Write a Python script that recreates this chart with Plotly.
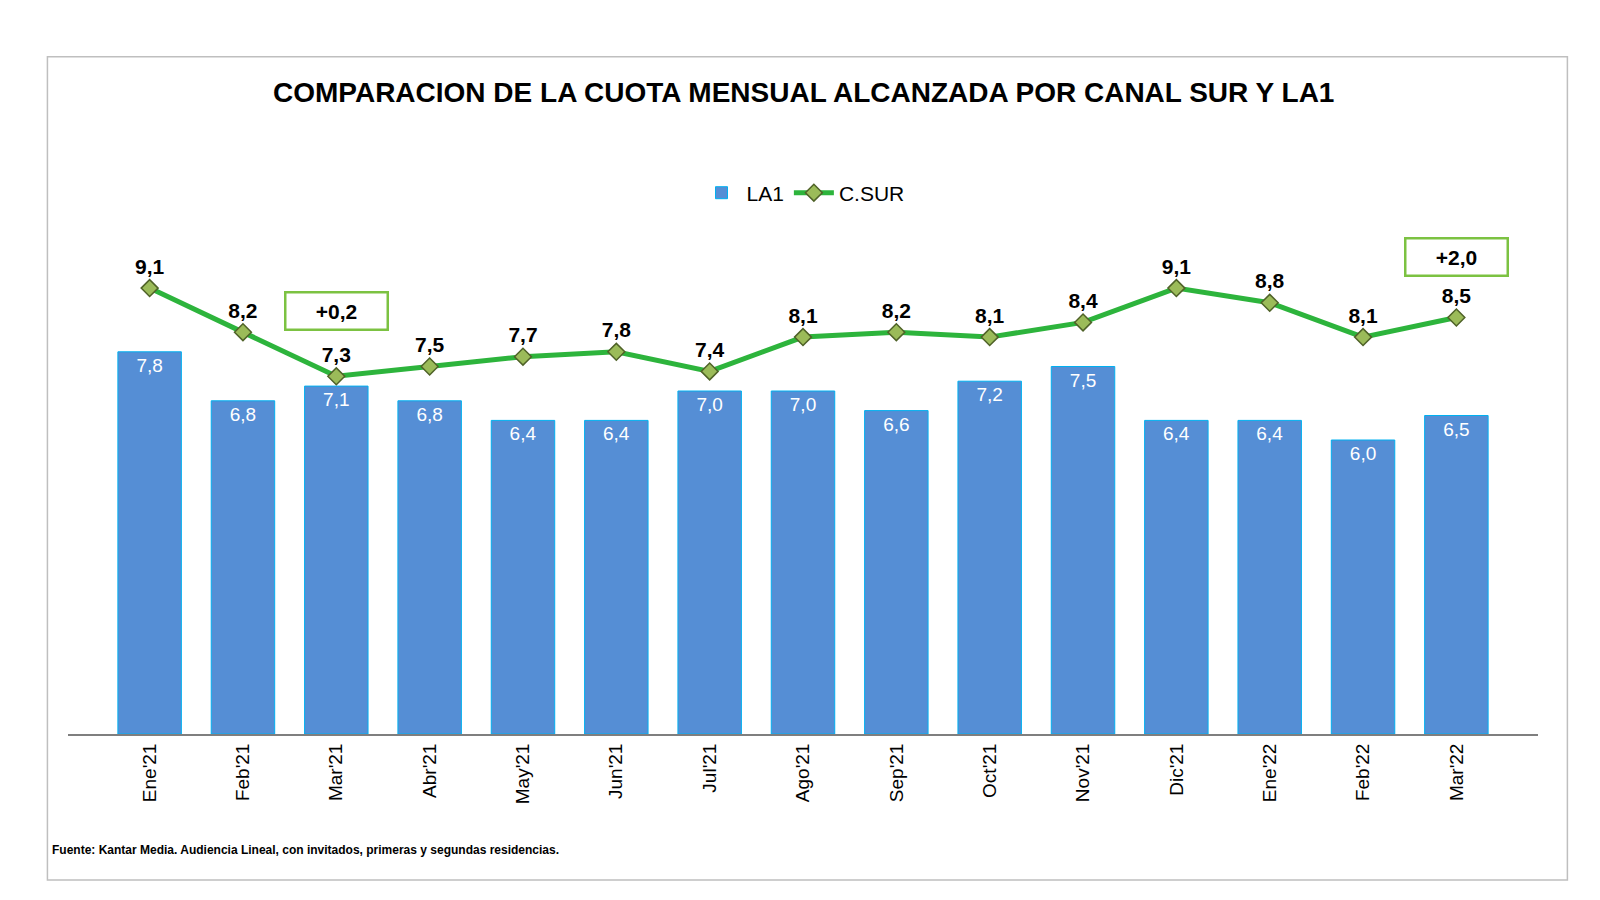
import plotly.graph_objects as go

months = ["Ene'21", "Feb'21", "Mar'21", "Abr'21", "May'21", "Jun'21", "Jul'21", "Ago'21",
          "Sep'21", "Oct'21", "Nov'21", "Dic'21", "Ene'22", "Feb'22", "Mar'22"]
la1 = [7.8, 6.8, 7.1, 6.8, 6.4, 6.4, 7.0, 7.0, 6.6, 7.2, 7.5, 6.4, 6.4, 6.0, 6.5]
csur = [9.1, 8.2, 7.3, 7.5, 7.7, 7.8, 7.4, 8.1, 8.2, 8.1, 8.4, 9.1, 8.8, 8.1, 8.5]
diffs = [("Mar'21", 0.905, "+0,2"), ("Mar'22", 1.015, "+2,0")]

font = "Liberation Sans"

fig = go.Figure()
fig.add_trace(go.Bar(
    x=months, y=la1, name="LA1", marker_color="#558ED5",
    marker_line=dict(color="#00B0F0", width=1),
    texttemplate="%{y:.1f}", textposition="inside", insidetextanchor="end",
    textfont=dict(color="white", size=19, family=font), textangle=0,
))
fig.add_trace(go.Scatter(
    x=months, y=csur, name="C.SUR", mode="lines+markers+text",
    line=dict(color="#2DB43C", width=5),
    marker=dict(symbol="diamond", size=13, color="#9BBB59", line=dict(color="#4F6228", width=1.5)),
    texttemplate="<b>%{y:.1f}</b>", textposition="top center",
    textfont=dict(color="black", size=21, family=font),
))

for m, yv, txt in diffs:
    fig.add_annotation(x=m, y=yv, yref="paper", text="<b>" + txt + "</b>", showarrow=False,
                       font=dict(size=21, family=font, color="black"),
                       bordercolor="#7CC242", borderwidth=2.5, borderpad=6,
                       bgcolor="white", width=88)

fig.add_shape(type="rect", xref="paper", yref="paper", x0=-0.014, x1=1.02, y0=-0.298, y1=1.382,
              line=dict(color="#BFBFBF", width=1.5), layer="below")

fig.add_annotation(xref="paper", yref="paper", x=0.5, y=1.345, showarrow=False,
                   text="<b>COMPARACION DE LA CUOTA MENSUAL ALCANZADA POR CANAL SUR Y LA1</b>",
                   font=dict(size=28, family=font, color="black"))
fig.add_annotation(xref="paper", yref="paper", x=-0.012, y=-0.255, xanchor="left", showarrow=False,
                   text="<b>Fuente: Kantar Media. Audiencia Lineal, con invitados, primeras y segundas residencias.</b>",
                   font=dict(size=12, family=font, color="black"))

fig.update_layout(
    width=1600, height=900, paper_bgcolor="white", plot_bgcolor="white",
    margin=dict(l=60, r=70, t=236, b=174),
    separators=",.", bargap=0.32, showlegend=True,
    legend=dict(orientation="h", x=0.5, xanchor="center", y=1.104, yanchor="middle",
                font=dict(size=21, family=font, color="black"), itemwidth=40),
    xaxis=dict(tickangle=-90, showline=True, linecolor="#7F7F7F", linewidth=2,
               tickfont=dict(size=19, family=font, color="black"), ticks=""),
    yaxis=dict(range=[0, 10], visible=False, showgrid=False),
)

fig.write_html("out.html")
